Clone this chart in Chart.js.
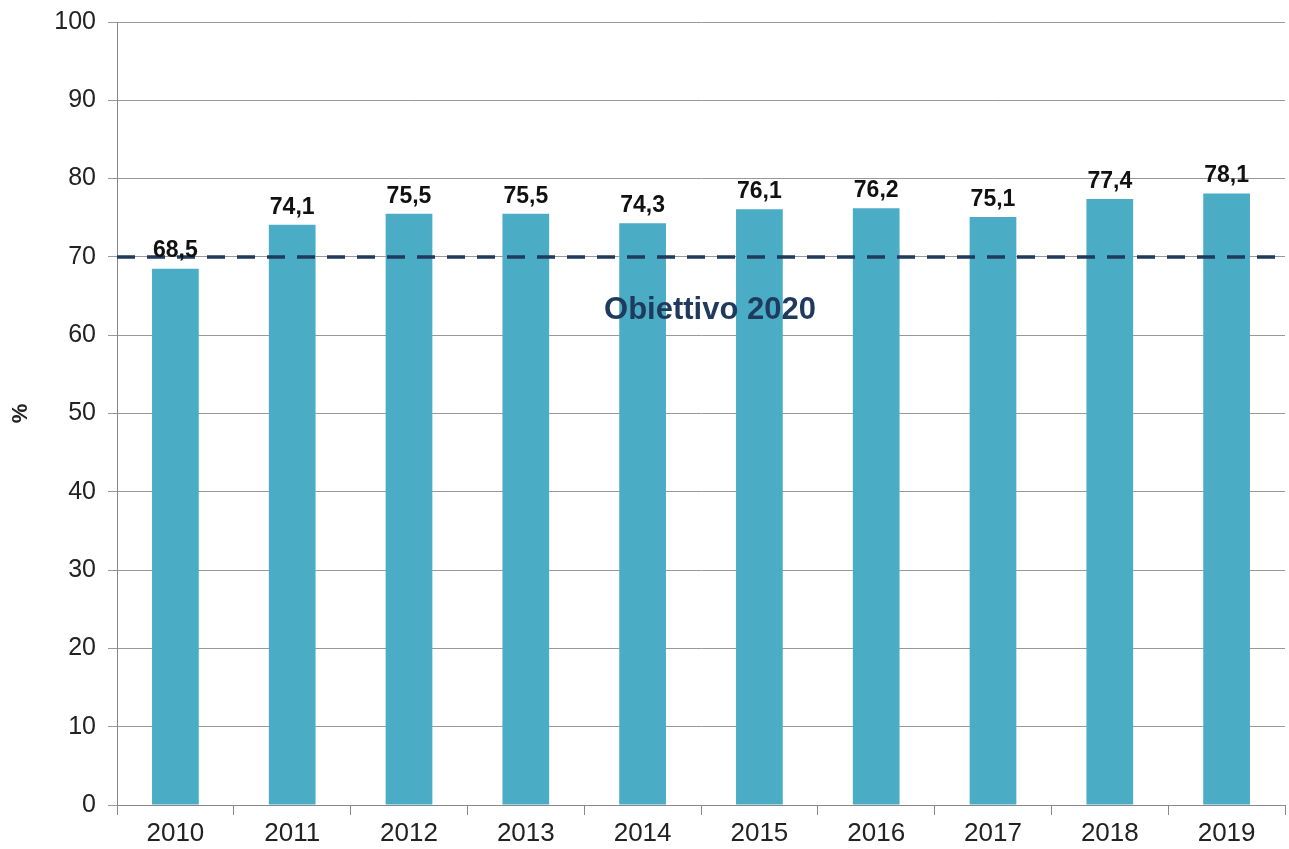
<!DOCTYPE html>
<html>
<head>
<meta charset="utf-8">
<script src="https://cdn.jsdelivr.net/npm/chart.js@4"></script>
<style>
  html, body { margin: 0; padding: 0; background: #fff; }
  #wrap { width: 1289px; height: 849px; }
</style>
</head>
<body>
<div id="wrap"><canvas id="myChart" width="1289" height="849"></canvas></div>
<script>
var years = ["2010", "2011", "2012", "2013", "2014", "2015", "2016", "2017", "2018", "2019"];
var values = [68.5, 74.1, 75.5, 75.5, 74.3, 76.1, 76.2, 75.1, 77.4, 78.1];
var target = 70;
var targetLabel = "Obiettivo 2020";

// etichette sopra le barre + linea obiettivo
var extras = {
    id: 'extras',
    afterDatasetsDraw: function (chart) {
        var c = chart.ctx, y = chart.scales.y, x = chart.scales.x, a = chart.chartArea;
        var py = y.getPixelForValue(target);
        c.save();
        c.strokeStyle = '#1f3a5c';
        c.lineWidth = 3.5;
        c.setLineDash([18, 12]);
        c.beginPath();
        c.moveTo(a.left, py);
        c.lineTo(a.right, py);
        c.stroke();
        c.setLineDash([]);

        c.fillStyle = '#111';
        c.font = 'bold 23px "Liberation Sans", Arial, sans-serif';
        c.textAlign = 'center';
        c.textBaseline = 'bottom';
        chart.getDatasetMeta(0).data.forEach(function (bar, i) {
            c.fillText(values[i].toFixed(1).replace('.', ','), bar.x, bar.y - 6);
        });

        c.fillStyle = '#1f3a5c';
        c.font = 'bold 31px "Liberation Sans", Arial, sans-serif';
        c.textBaseline = 'middle';
        var tx = (x.getPixelForValue(4) + x.getPixelForValue(5)) / 2 + 9;
        c.fillText(targetLabel, tx, y.getPixelForValue(63.2));
        c.restore();
    }
};

var ctx = document.getElementById("myChart");
var myChart = new Chart(ctx, {
    type: 'bar',
    data: {
        labels: years,
        datasets: [{
            data: values,
            backgroundColor: '#4bacc6',
            borderWidth: 0,
            barPercentage: 0.4,
            categoryPercentage: 1
        }]
    },
    options: {
        responsive: false,
        animation: false,
        layout: { padding: { top: 22, right: 4, left: 0, bottom: 0 } },
        plugins: { legend: { display: false }, tooltip: { enabled: false } },
        scales: {
            x: {
                afterFit: function (s) { s.height = 44; s.paddingLeft = 0; s.paddingRight = 0; },
                grid: { display: true, drawOnChartArea: false, drawTicks: true, tickLength: 10, color: '#888', offset: true },
                border: { color: '#888' },
                ticks: { color: '#222', padding: 3, font: { size: 26, family: '"Liberation Sans", Arial, sans-serif' } }
            },
            y: {
                min: 0,
                max: 100,
                afterFit: function (s) { s.width = 117; s.paddingTop = 0; s.paddingBottom = 0; },
                ticks: { stepSize: 10, color: '#222', padding: 12, font: { size: 25, family: '"Liberation Sans", Arial, sans-serif' } },
                grid: { color: '#999', tickLength: 9 },
                border: { color: '#888' },
                title: { display: true, text: '%', color: '#222', padding: { top: 8, bottom: 0 }, font: { size: 22, weight: 'bold', family: '"Liberation Sans", Arial, sans-serif' } }
            }
        }
    },
    plugins: [extras]
});
</script>
</body>
</html>
